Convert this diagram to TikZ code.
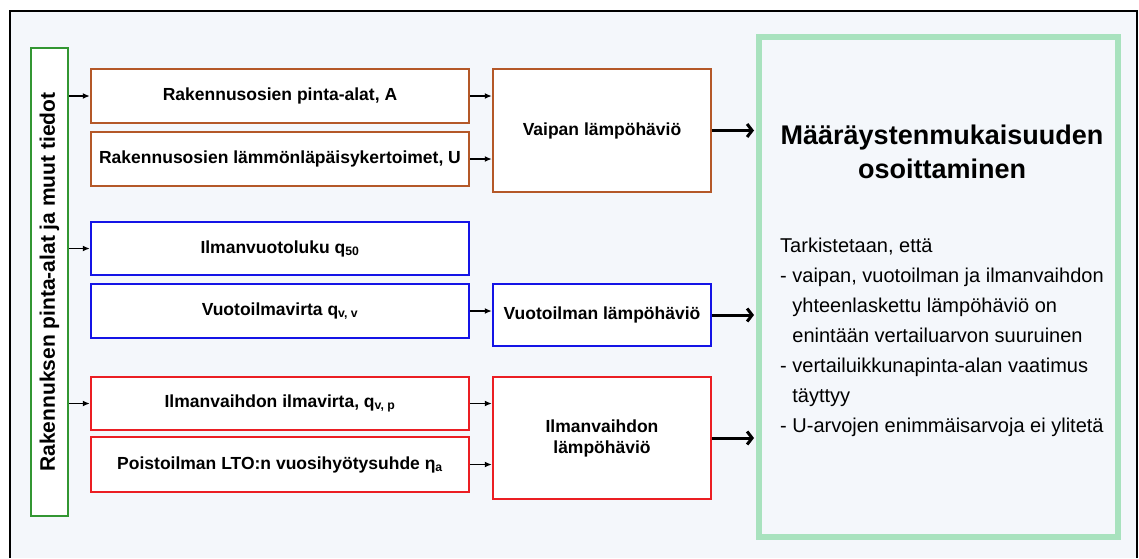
\documentclass[tikz,border=0pt]{standalone}
\usepackage{fontspec}
\setmainfont{Liberation Sans}
\usepackage{tikz}
\usetikzlibrary{arrows.meta}
\definecolor{tausta}{RGB}{244,247,251}
\definecolor{ruskea}{RGB}{180,88,40}
\definecolor{sininen}{RGB}{20,20,230}
\definecolor{punainen}{RGB}{235,30,35}
\definecolor{vihrea}{RGB}{50,150,50}
\definecolor{vaaleanvihrea}{RGB}{168,226,190}
\def\inx{280}   % center of the input boxes
\def\lossx{602} % center of the loss boxes

\begin{document}
\begin{tikzpicture}[x=1pt, y=-1pt,
  nodes = {font=\bfseries\fontsize{17.5}{21}\selectfont, inner sep=2pt},
  inbox/.style = {draw=#1, fill=white, line width=2.5pt, minimum width=378pt},
  lossbox/.style = {draw=#1, fill=white, line width=2.5pt, minimum width=218pt, align=center},
  pieninuoli/.style = {line width=1.3pt, -{Latex[length=7pt,width=6pt]}},
  isonuoli/.style = {line width=3pt, -{Straight Barb[length=5pt,width=13pt]}, shorten >=2pt}]
\useasboundingbox (0,0) rectangle (1139,558);
% frame, open at the bottom
\fill[tausta] (10,11) rectangle (1137,558);
\draw[line width=2pt] (10,558) -- (10,11) -- (1137,11) -- (1137,558);

% source bar on the left
\node[draw=vihrea, fill=white, line width=2pt, rotate=90,
  font=\bfseries\fontsize{21}{24}\selectfont,
  minimum width=468pt, minimum height=37pt] (tiedot) at (49.5,282)
  {Rakennuksen pinta-alat ja muut tiedot};

% envelope
\node[inbox=ruskea, minimum height=54pt] (pinta) at (\inx,96) {Rakennusosien pinta-alat, A};
\node[inbox=ruskea, minimum height=54pt] (lammon) at (\inx,159) {Rakennusosien lämmönläpäisykertoimet, U};
\node[lossbox=ruskea, minimum height=123pt] (vaipan) at (\lossx,130.5) {Vaipan lämpöhäviö};

% leakage air
\node[inbox=sininen, minimum height=53pt] (ilmanvuoto) at (\inx,248.5) {Ilmanvuotoluku q\textsubscript{50}};
\node[inbox=sininen, minimum height=54pt] (vuotoilma) at (\inx,311) {Vuotoilmavirta q\textsubscript{v, v}};
\node[lossbox=sininen, minimum height=62pt] (vuotoloss) at (\lossx,315) {Vuotoilman lämpöhäviö};

% ventilation
\node[inbox=punainen, minimum height=53pt] (ilmavirta) at (\inx,403.5) {Ilmanvaihdon ilmavirta, q\textsubscript{v, p}};
\node[inbox=punainen, minimum height=55pt] (lto) at (\inx,464.5) {Poistoilman LTO:n vuosihyötysuhde η\textsubscript{a}};
\node[lossbox=punainen, minimum height=122pt] (ilmaloss) at (\lossx,438) {Ilmanvaihdon\\lämpöhäviö};

% result
\node[draw=vaaleanvihrea, line width=6pt, minimum width=359pt, minimum height=500pt] (tulos) at (938.5,287) {};
\node[font=\bfseries\fontsize{27}{34}\selectfont, align=center] (otsikko) at (942,152)
  {Määräystenmukaisuuden\\osoittaminen};
\node[font=\fontsize{20}{30}\selectfont, align=left, anchor=north west, inner sep=0pt] (ehdot) at (780,238)
  {Tarkistetaan, että\\
   - vaipan, vuotoilman ja ilmanvaihdon\\
   \phantom{- }yhteenlaskettu lämpöhäviö on\\
   \phantom{- }enintään vertailuarvon suuruinen\\
   - vertailuikkunapinta-alan vaatimus\\
   \phantom{- }täyttyy\\
   - U-arvojen enimmäisarvoja ei ylitetä};

% arrows
\foreach \dst in {pinta, ilmanvuoto, ilmavirta}
  \draw[pieninuoli] (tiedot.south |- \dst.west) -- (\dst.west);
\foreach \src/\dst in {pinta/vaipan, lammon/vaipan, vuotoilma/vuotoloss, ilmavirta/ilmaloss, lto/ilmaloss}
  \draw[pieninuoli] (\src.east) -- (\src.east -| \dst.west);
\foreach \src in {vaipan, vuotoloss, ilmaloss}
  \draw[isonuoli] (\src.east) -- (\src.east -| tulos.west);
\end{tikzpicture}
\end{document}
